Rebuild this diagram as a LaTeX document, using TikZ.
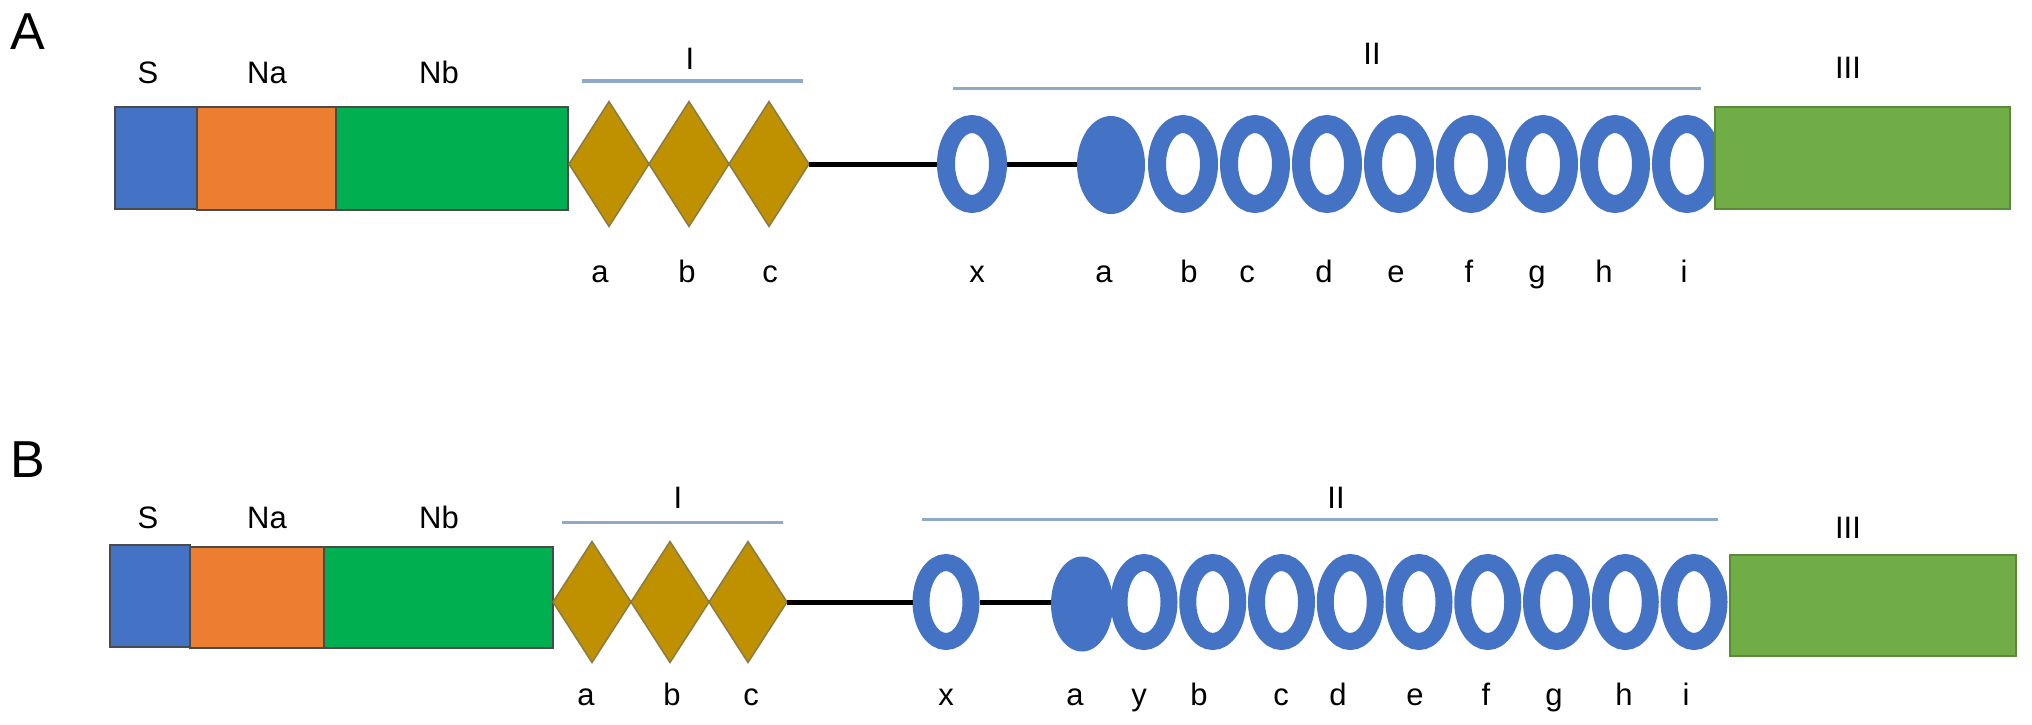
\documentclass[tikz,border=0pt]{standalone}
\usepackage{fontspec}
\setmainfont{Liberation Sans}
\usetikzlibrary{shapes.geometric}
\definecolor{sblue}{HTML}{4472C4}
\definecolor{naorange}{HTML}{ED7D31}
\definecolor{nbgreen}{HTML}{00B050}
\definecolor{diamfill}{HTML}{BF9000}
\definecolor{diamdraw}{HTML}{8A7B45}
\definecolor{iiigreen}{HTML}{70AD47}
\definecolor{iiidraw}{HTML}{5A8A3A}
\definecolor{barblue}{HTML}{8FAAC6}
\definecolor{boxline}{HTML}{4A4A4A}
\begin{document}
\begin{tikzpicture}[x=1pt,y=-1pt,
  dombox/.style={rectangle, inner sep=0pt, outer sep=0pt, draw=boxline, line width=1.2pt},
  diam/.style={diamond, inner sep=0pt, outer sep=0pt, fill=diamfill, draw=diamdraw, line width=1.5pt},
  ringA/.style={ellipse, inner sep=0pt, outer sep=9pt, draw=sblue, line width=18pt, minimum width=52pt, minimum height=80pt},
  ringB/.style={ellipse, inner sep=0pt, outer sep=8.5pt, draw=sblue, line width=17pt, minimum width=50pt, minimum height=79pt},
  solid/.style={ellipse, inner sep=0pt, outer sep=0pt, fill=sblue},
  linker/.style={line width=5pt, black},
  bar/.style={line width=3pt, barblue},
  lab/.style={inner sep=0pt, anchor=base, font=\fontsize{31}{35}\selectfont},
  panel/.style={inner sep=0pt, anchor=base west, font=\fontsize{52}{56}\selectfont}
]
\useasboundingbox (0,0) rectangle (2032,725);

% ---------------- Panel A ----------------
\node[panel] (pA) at (10,49) {A};
\node[dombox, fill=sblue, minimum width=82pt, minimum height=102pt] (AS) at (156,158) {};
\node[dombox, fill=naorange, minimum width=139pt, minimum height=103pt] (ANa) at (266.5,158.5) {};
\node[dombox, fill=nbgreen, minimum width=232pt, minimum height=103pt] (ANb) at (452,158.5) {};
\node[diam, minimum width=80pt, minimum height=125pt] (AIa) at (609,164) {};
\node[diam, minimum width=80pt, minimum height=125pt] (AIb) at (689,164) {};
\node[diam, minimum width=80pt, minimum height=125pt] (AIc) at (769,164) {};
\node[ringA] (AIIx) at (972,164) {};
\node[solid, minimum width=68pt, minimum height=98pt] (AIIa) at (1111,165) {};
\foreach \n [count=\k] in {b,c,d,e,f,g,h,i}{
  \node[ringA] (AII\n) at ({1111+72*\k},164) {};
}
\node[dombox, fill=iiigreen, draw=iiidraw, minimum width=295pt, minimum height=102pt] (AIII) at (1862.5,158) {};
\draw[linker] (AIc.east) -- (AIIx.west);
\draw[linker] (AIIx.east) -- (AIIa.west |- AIIx.east);
\coordinate (AIl) at (582,81); \coordinate (AIr) at (803,81);
\draw[bar] (AIl) -- (AIr);
\coordinate (AIIl) at (953,88); \coordinate (AIIr) at (1701,88);
\draw[bar] (AIIl) -- (AIIr);
\node[lab] (lAS) at (148,83) {S};
\node[lab] (lANa) at (267,83) {Na};
\node[lab] (lANb) at (439,83) {Nb};
\node[lab] (lAI) at (690,70) {I};
\node[lab] (lAII) at (1372,65) {II};
\node[lab] (lAIII) at (1848,78) {III};
\node[lab] (lAIa) at (600,282) {a};
\node[lab] (lAIb) at (687,282) {b};
\node[lab] (lAIc) at (770,282) {c};
\node[lab] (lAIIx) at (977,282) {x};
\node[lab] (lAIIa) at (1104,282) {a};
\node[lab] (lAIIb) at (1189,282) {b};
\node[lab] (lAIIc) at (1247,282) {c};
\node[lab] (lAIId) at (1324,282) {d};
\node[lab] (lAIIe) at (1396,282) {e};
\node[lab] (lAIIf) at (1469,282) {f};
\node[lab] (lAIIg) at (1537,282) {g};
\node[lab] (lAIIh) at (1604,282) {h};
\node[lab] (lAIIi) at (1684,282) {i};

% ---------------- Panel B ----------------
\node[panel] (pB) at (10,477) {B};
\node[dombox, fill=sblue, minimum width=80pt, minimum height=102pt] (BS) at (150,596) {};
\node[dombox, fill=naorange, minimum width=134pt, minimum height=101pt] (BNa) at (257,597.5) {};
\node[dombox, fill=nbgreen, minimum width=229pt, minimum height=101pt] (BNb) at (438.5,597.5) {};
\node[diam, minimum width=78pt, minimum height=121pt] (BIa) at (592,602) {};
\node[diam, minimum width=78pt, minimum height=121pt] (BIb) at (670,602) {};
\node[diam, minimum width=78pt, minimum height=121pt] (BIc) at (748,602) {};
\node[ringB] (BIIx) at (946,602) {};
\node[solid, minimum width=62pt, minimum height=95pt] (BIIa) at (1082,604) {};
\foreach \n [count=\k from 0] in {y,b,c,d,e,f,g,h,i}{
  \node[ringB] (BII\n) at ({1144+68.75*\k},602) {};
}
\node[dombox, fill=iiigreen, draw=iiidraw, minimum width=286pt, minimum height=101pt] (BIII) at (1873,605.5) {};
\draw[linker] (BIc.east) -- (BIIx.west);
\draw[linker] (BIIx.east) -- (BIIa.west |- BIIx.east);
\coordinate (BIl) at (562,522); \coordinate (BIr) at (783,522);
\draw[bar] (BIl) -- (BIr);
\coordinate (BIIl) at (922,519); \coordinate (BIIr) at (1718,519);
\draw[bar] (BIIl) -- (BIIr);
\node[lab] (lBS) at (148,528) {S};
\node[lab] (lBNa) at (267,528) {Na};
\node[lab] (lBNb) at (439,528) {Nb};
\node[lab] (lBI) at (678,508) {I};
\node[lab] (lBII) at (1336,508) {II};
\node[lab] (lBIII) at (1848,538) {III};
\node[lab] (lBIa) at (586,705) {a};
\node[lab] (lBIb) at (672,705) {b};
\node[lab] (lBIc) at (751,705) {c};
\node[lab] (lBIIx) at (946,705) {x};
\node[lab] (lBIIa) at (1075,705) {a};
\node[lab] (lBIIy) at (1139,705) {y};
\node[lab] (lBIIb) at (1199,705) {b};
\node[lab] (lBIIc) at (1281,705) {c};
\node[lab] (lBIId) at (1338,705) {d};
\node[lab] (lBIIe) at (1415,705) {e};
\node[lab] (lBIIf) at (1486,705) {f};
\node[lab] (lBIIg) at (1554,705) {g};
\node[lab] (lBIIh) at (1624,705) {h};
\node[lab] (lBIIi) at (1686,705) {i};
\end{tikzpicture}
\end{document}
